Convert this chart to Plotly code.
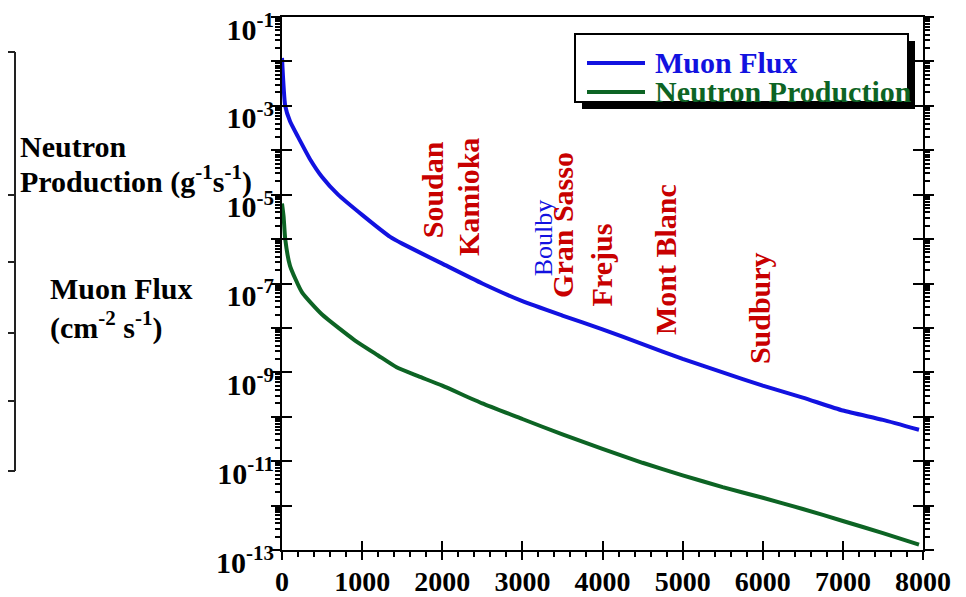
import plotly.graph_objects as go

# ---------------- data ----------------
muon_depth = [0, 40, 100, 200, 350, 500, 700, 1000, 1350, 1500, 2000, 2500, 3000,
              3500, 4000, 4500, 5000, 5500, 6000, 6500, 7000, 7500, 7950]
muon_flux = [1.2e-2, 1.0e-3, 4.5e-4, 2.0e-4, 6.3e-5, 2.5e-5, 1.0e-5, 3.5e-6, 1.12e-6,
             7.9e-7, 2.8e-7, 1.0e-7, 4.0e-8, 1.9e-8, 9.3e-9, 4.3e-9, 2.0e-9, 1.0e-9,
             5.0e-10, 2.7e-10, 1.38e-10, 8.5e-11, 5.1e-11]

neutron_depth = [0, 20, 40, 100, 250, 500, 900, 1200, 1430, 1700, 2000, 2500, 3000, 3500,
                 4000, 4500, 5000, 5500, 6000, 6500, 7000, 7500, 7950]
neutron_prod = [6.3e-6, 3.2e-6, 1.0e-6, 2.5e-7, 6.3e-8, 2.0e-8, 5.4e-9, 2.4e-9, 1.3e-9,
                8.2e-10, 5.0e-10, 2.0e-10, 8.9e-11, 4.0e-11, 1.9e-11, 9.2e-12, 4.8e-12,
                2.6e-12, 1.5e-12, 8.4e-13, 4.5e-13, 2.4e-13, 1.32e-13]

x_tick_values = [0, 1000, 2000, 3000, 4000, 5000, 6000, 7000, 8000]
x_tick_labels = ["0", "1000", "2000", "3000", "4000", "5000", "6000", "7000", "8000"]
y_exponents = [-13, -12, -11, -10, -9, -8, -7, -6, -5, -4, -3, -2, -1]
y_labelled = [-13, -11, -9, -7, -5, -3, -1]

site_names = ["Soudan", "Kamioka", "Boulby", "Gran Sasso", "Frejus", "Mont Blanc", "Sudbury"]
site_depth = [1873, 2335, 3258, 3508, 3983, 4794, 5968]

series_names = ["Muon Flux", "Neutron Production"]

# ---------------- styling / layout ----------------
BLUE = "#1212e0"
GREEN = "#0d6424"
RED = "#c80000"
FONT = "Liberation Serif"

# the page body has an 8px margin: the figure is made 8px smaller and all
# page-pixel positions are converted to figure pixels
OFF = 8
W, H = 966 - OFF, 597 - OFF
L, T, R, B = 282 - OFF, 17 - OFF, 923 - OFF, 550 - OFF
PW, PH = R - L, B - T


def px(x):
    return (x - OFF - L) / PW


def py(y):
    return (B - (y - OFF)) / PH


site_label_log_y = [-4.90, -5.05, -5.98, -5.68, -6.59, -6.47, -7.55]
site_colors = [RED, RED, BLUE, RED, RED, RED, RED]
site_weights = ["bold", "bold", "normal", "bold", "bold", "bold", "bold"]
site_sizes = [30, 30, 26, 30, 30, 30, 30]

fig = go.Figure()
fig.add_trace(go.Scatter(x=muon_depth, y=muon_flux, mode="lines", name=series_names[0],
                         line=dict(color=BLUE, width=4, shape="spline", smoothing=0.5),
                         showlegend=False))
fig.add_trace(go.Scatter(x=neutron_depth, y=neutron_prod, mode="lines", name=series_names[1],
                         line=dict(color=GREEN, width=4, shape="spline", smoothing=0.5),
                         showlegend=False))

decades = [10.0 ** e for e in y_exponents]
y_label_vals = [10.0 ** e for e in y_labelled]
y_label_text = ["10<sup>%d</sup>" % e for e in y_labelled]
y_minor = [m * 10.0 ** e for e in range(-13, -1) for m in range(2, 10)]

common_y = dict(type="log", range=[-13, -1], showgrid=False, zeroline=False,
                automargin=False)
common_x = dict(range=[0, 8000], showgrid=False, zeroline=False, automargin=False)

fig.update_layout(
    width=W, height=H, autosize=False,
    margin=dict(l=L, r=W - R, t=T, b=H - B, pad=0),
    paper_bgcolor="white", plot_bgcolor="white",
    showlegend=False,
    xaxis=dict(**common_x,
               showline=True, linecolor="black", linewidth=2, mirror=True,
               ticks="inside", ticklen=9, tickwidth=2, tickcolor="black",
               tickvals=x_tick_values, ticktext=x_tick_labels,
               ticklabelstandoff=5, ticklabeloverflow="allow",
               tickfont=dict(family=FONT, size=28, color="black", weight="bold"),
               minor=dict(ticks="outside", ticklen=5, tickwidth=1.5, tickcolor="black",
                          dtick=200)),
    xaxis2=dict(**common_x, overlaying="x", anchor="y", side="bottom",
                showline=False,
                ticks="outside", ticklen=9, tickwidth=2, tickcolor="black",
                tickvals=x_tick_values, showticklabels=False),
    yaxis=dict(**common_y,
               showline=True, linecolor="black", linewidth=2, mirror="ticks",
               ticks="inside", ticklen=10, tickwidth=2, tickcolor="black",
               tickvals=y_label_vals, ticktext=y_label_text,
               ticklabelshift=12, ticklabeloverflow="allow",
               tickfont=dict(family=FONT, size=30, color="black", weight="bold"),
               minor=dict(ticks="outside", ticklen=5, tickwidth=1.5, tickcolor="black",
                          tickvals=y_minor)),
    yaxis2=dict(**common_y, overlaying="y", anchor="x", side="left",
                showline=False, mirror="ticks",
                ticks="outside", ticklen=10, tickwidth=2, tickcolor="black",
                tickvals=decades, showticklabels=False),
    yaxis3=dict(**common_y, overlaying="y", anchor="x", side="left",
                showline=False, mirror="ticks",
                ticks="inside", ticklen=10, tickwidth=2, tickcolor="black",
                tickvals=decades, showticklabels=False),
)

# invisible traces to activate overlay axes
fig.add_trace(go.Scatter(x=[None], y=[None], xaxis="x2", yaxis="y2", showlegend=False,
                         hoverinfo="skip"))
fig.add_trace(go.Scatter(x=[None], y=[None], xaxis="x", yaxis="y3", showlegend=False,
                         hoverinfo="skip"))

shapes = []
# cropped table edge on the far left
shapes.append(dict(type="line", xref="paper", yref="paper", x0=px(15), x1=px(15),
                   y0=py(52), y1=py(471), line=dict(color="#222", width=2)))
for yy in [52, 195, 262, 333, 401, 471]:
    shapes.append(dict(type="line", xref="paper", yref="paper", x0=px(OFF), x1=px(15),
                       y0=py(yy), y1=py(yy), line=dict(color="#222", width=2)))
# legend shadow and box
shapes.append(dict(type="rect", xref="paper", yref="paper", x0=px(582), x1=px(915),
                   y0=py(109), y1=py(41), fillcolor="black", line=dict(width=0)))
shapes.append(dict(type="rect", xref="paper", yref="paper", x0=px(575), x1=px(908),
                   y0=py(102), y1=py(34), fillcolor="white",
                   line=dict(color="black", width=2)))
shapes.append(dict(type="line", xref="paper", yref="paper", x0=px(587), x1=px(645),
                   y0=py(63), y1=py(63), line=dict(color=BLUE, width=4)))
shapes.append(dict(type="line", xref="paper", yref="paper", x0=px(587), x1=px(645),
                   y0=py(92), y1=py(92), line=dict(color=GREEN, width=4)))
fig.update_layout(shapes=shapes)

ann = []
ann.append(dict(xref="paper", yref="paper", x=px(653), y=py(62), xanchor="left",
                yanchor="middle", text=series_names[0], showarrow=False, height=28,
                font=dict(family=FONT, size=30, color=BLUE, weight="bold")))
ann.append(dict(xref="paper", yref="paper", x=px(653), y=py(91), xanchor="left",
                yanchor="middle", text=series_names[1], showarrow=False, height=28,
                font=dict(family=FONT, size=30, color=GREEN, weight="bold")))

left_texts = [("Neutron", 18, 146), ("Production (g<sup>-1</sup>s<sup>-1</sup>)", 18, 180),
              ("Muon Flux", 48, 288), ("(cm<sup>-2</sup> s<sup>-1</sup>)", 48, 326)]
for txt, xx, yy in left_texts:
    ann.append(dict(xref="paper", yref="paper", x=px(xx), y=py(yy), xanchor="left",
                    yanchor="middle", text=txt, showarrow=False,
                    font=dict(family=FONT, size=30, color="black", weight="bold")))

for name, d, ly, c, w, s in zip(site_names, site_depth, site_label_log_y, site_colors,
                                site_weights, site_sizes):
    ann.append(dict(xref="x", yref="y", x=d, y=ly, text=name, textangle=-90,
                    showarrow=False, xanchor="center", yanchor="middle",
                    font=dict(family=FONT, size=s, color=c, weight=w)))
fig.update_layout(annotations=ann)

fig.write_html("out.html")
